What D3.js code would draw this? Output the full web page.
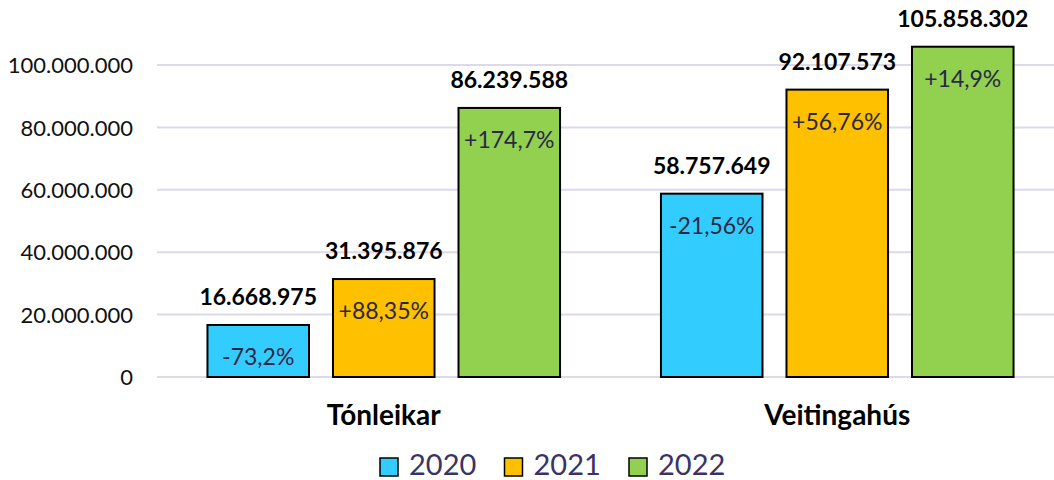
<!DOCTYPE html>
<html>
<head>
<meta charset="utf-8">
<script src="https://cdn.jsdelivr.net/npm/d3@7"></script>
<style>
  body { margin: 0; background: #fff; }
  svg { display: block; font-family: Lato, "Open Sans", sans-serif; }
</style>
</head>
<body>
<svg id="chart" width="1054" height="480"></svg>
<script>
// ---- data ----
const categories = ['Tónleikar', 'Veitingahús']
const years = ['2020', '2021', '2022']
const values2020 = [16668975, 58757649]
const values2021 = [31395876, 92107573]
const values2022 = [86239588, 105858302]
const change2020 = ['-73,2%', '-21,56%']
const change2021 = ['+88,35%', '+56,76%']
const change2022 = ['+174,7%', '+14,9%']
const yTicks = [0, 20000000, 40000000, 60000000, 80000000, 100000000]
const colors = ['#33CCFF', '#FFC000', '#92D050']

const seriesValues = [values2020, values2021, values2022]
const seriesChange = [change2020, change2021, change2022]

let rows = []
categories.forEach((cat, ci) => {
    years.forEach((yr, yi) => {
        rows.push({ cat, yr, yi, value: seriesValues[yi][ci], change: seriesChange[yi][ci] })
    })
})

const locale = d3.formatLocale({ decimal: ',', thousands: '.', grouping: [3], currency: ['', ''] })
const fmt = locale.format(',d')

// ---- scales ----
let svg = d3.select('#chart')
let plotLeft = 157, plotRight = 1064, plotBottom = 377, plotTop = 65

let x0 = d3.scaleBand().domain(categories).range([plotLeft, plotRight]).padding(0)
let x1 = d3.scaleBand().domain(years).range([0, x0.bandwidth()])
    .paddingInner(0.191).paddingOuter(0.402)
let y = d3.scaleLinear().domain([0, 100000000]).range([plotBottom, plotTop])

// gridlines
svg.append('g')
    .selectAll('line')
    .data(yTicks)
    .enter().append('line')
    .attr('x1', plotLeft).attr('x2', plotRight)
    .attr('y1', d => y(d)).attr('y2', d => y(d))
    .attr('stroke', '#dcd9ec')
    .attr('stroke-width', 2)

// y axis labels
let yAxis = svg.append('g')
    .attr('transform', 'translate(' + (plotLeft - 24) + ',0)')
    .call(d3.axisLeft(y).tickValues(yTicks).tickFormat(fmt).tickSize(0).tickPadding(0))
yAxis.select('.domain').remove()
yAxis.selectAll('text')
    .attr('font-family', 'Lato, sans-serif')
    .attr('font-size', 22)
    .attr('fill', '#111')
    .attr('dy', '0.35em')

// bars
let g = svg.append('g')
g.selectAll('.bar')
    .data(rows)
    .enter().append('rect')
    .attr('class', 'bar')
    .attr('x', d => x0(d.cat) + x1(d.yr))
    .attr('y', d => y(d.value))
    .attr('width', x1.bandwidth())
    .attr('height', d => y(0) - y(d.value))
    .attr('fill', d => colors[d.yi])
    .attr('stroke', '#000')
    .attr('stroke-width', 2)

// value labels
g.selectAll('.val')
    .data(rows)
    .enter().append('text')
    .attr('class', 'val')
    .attr('x', d => x0(d.cat) + x1(d.yr) + x1.bandwidth() / 2)
    .attr('y', d => y(d.value) - 20)
    .attr('text-anchor', 'middle')
    .attr('font-size', 23)
    .attr('font-weight', 'bold')
    .attr('fill', '#000')
    .text(d => fmt(d.value))

// percent change labels
g.selectAll('.chg')
    .data(rows)
    .enter().append('text')
    .attr('class', 'chg')
    .attr('x', d => x0(d.cat) + x1(d.yr) + x1.bandwidth() / 2)
    .attr('y', d => y(d.value) + 40)
    .attr('text-anchor', 'middle')
    .attr('font-size', 23)
    .attr('fill', '#2a2845')
    .text(d => d.change)

// category labels
svg.append('g')
    .selectAll('text')
    .data(categories)
    .enter().append('text')
    .attr('x', d => x0(d) + x0.bandwidth() / 2)
    .attr('y', 425)
    .attr('text-anchor', 'middle')
    .attr('font-size', 28)
    .attr('font-weight', 'bold')
    .attr('fill', '#000')
    .text(d => d)

// legend
let legend = svg.append('g').attr('transform', 'translate(380,0)')
let item = legend.selectAll('g')
    .data(years)
    .enter().append('g')
    .attr('transform', (d, i) => 'translate(' + (i * 124.5) + ',0)')
item.append('rect')
    .attr('x', 0).attr('y', 458)
    .attr('width', 18).attr('height', 18)
    .attr('fill', (d, i) => colors[i])
    .attr('stroke', '#000')
    .attr('stroke-width', 1.5)
item.append('text')
    .attr('x', 29).attr('y', 475)
    .attr('font-size', 29)
    .attr('fill', '#3a3366')
    .text(d => d)
</script>
</body>
</html>
